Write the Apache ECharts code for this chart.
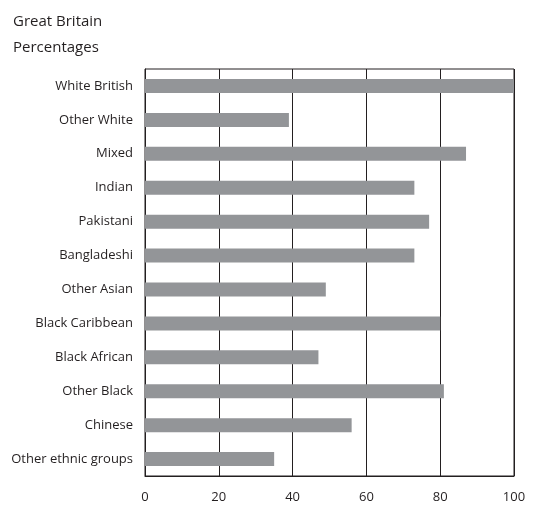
<!DOCTYPE html>
<html><head><meta charset="utf-8">
<script src="https://cdn.jsdelivr.net/npm/echarts@6/dist/echarts.min.js"></script>
<style>html,body{margin:0;padding:0;background:#fff}#c{width:543px;height:506px}</style>
</head><body><div id="c"></div>
<script>
const categories = ["White British","Other White","Mixed","Indian","Pakistani","Bangladeshi","Other Asian","Black Caribbean","Black African","Other Black","Chinese","Other ethnic groups"];
const values = [100, 39, 87, 73, 77, 73, 49, 80, 47, 81, 56, 35];
const xTicks = [0, 20, 40, 60, 80, 100];
const titleLines = ["Great Britain", "Percentages"];

const chart = echarts.init(document.getElementById('c'));
const font = '"Open Sans", sans-serif';
chart.setOption({
  animation: false,
  title: {
    text: titleLines.join('\n'),
    left: 8, top: 4,
    textStyle: { fontFamily: font, fontSize: 15, fontWeight: 'normal', color: '#231f20', lineHeight: 26 }
  },
  grid: { left: 145, right: 29, top: 69, bottom: 30, show: true, borderColor: '#231f20', borderWidth: 1 },
  xAxis: {
    type: 'value', min: 0, max: 100, interval: 20,
    axisLine: { show: true, lineStyle: { color: '#231f20' } },
    axisTick: { show: false },
    splitLine: { show: true, lineStyle: { color: '#231f20', width: 1 } },
    axisLabel: { margin: 15, fontFamily: font, fontSize: 13, color: '#231f20',
      formatter: v => xTicks.includes(v) ? String(v) : '' }
  },
  yAxis: {
    type: 'category', data: categories, inverse: true,
    axisLine: { show: true, lineStyle: { color: '#231f20' } },
    axisTick: { show: false },
    axisLabel: { margin: 12, fontFamily: font, fontSize: 13, color: '#231f20' }
  },
  series: [{
    type: 'bar', data: values, barWidth: 14,
    itemStyle: { color: '#939598' }
  }]
});
</script></body></html>
